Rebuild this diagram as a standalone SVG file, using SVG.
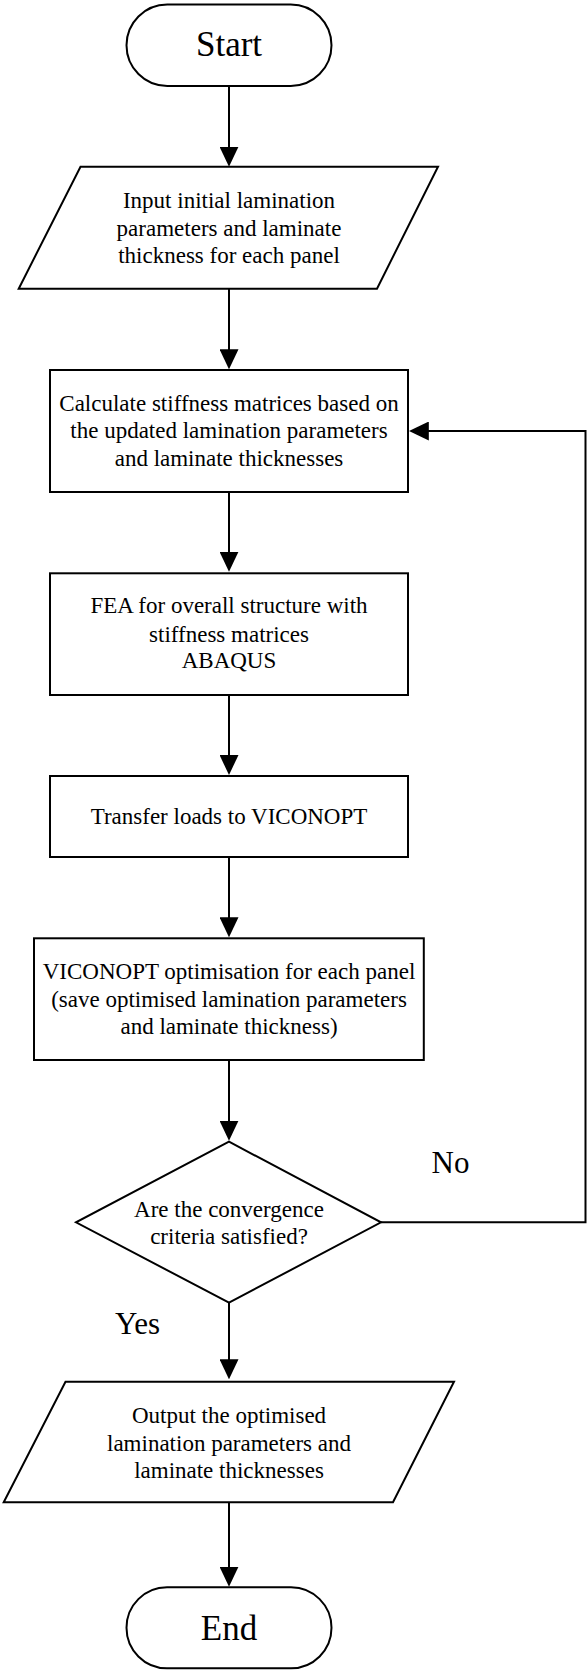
<svg xmlns="http://www.w3.org/2000/svg" width="587" height="1671" viewBox="0 0 587 1671">
  <style>
    .shape { fill: #ffffff; stroke: #000000; stroke-width: 2; }
    .conn { fill: none; stroke: #000000; stroke-width: 2; }
    text { font-family: "Liberation Serif", "Times New Roman", serif; fill: #000000; }
    .t { font-size: 23px; text-anchor: middle; }
    .big { font-size: 35px; text-anchor: middle; }
    .lbl { font-size: 31px; }
  </style>
  <defs>
    <marker id="arrow" markerUnits="userSpaceOnUse" markerWidth="20" markerHeight="19" refX="16" refY="9.5" orient="auto">
      <path d="M0,0 L20,9.5 L0,19 Z" fill="#000000"/>
    </marker>
  </defs>

  <rect width="587" height="1671" fill="#ffffff"/>

  <!-- connectors -->
  <g id="connectors">
    <line class="conn" x1="229" y1="86" x2="229" y2="162.7" marker-end="url(#arrow)"/>
    <line class="conn" x1="229" y1="288.7" x2="229" y2="365.3" marker-end="url(#arrow)"/>
    <line class="conn" x1="229" y1="492" x2="229" y2="567.7" marker-end="url(#arrow)"/>
    <line class="conn" x1="229" y1="695" x2="229" y2="771" marker-end="url(#arrow)"/>
    <line class="conn" x1="229" y1="857" x2="229" y2="933.3" marker-end="url(#arrow)"/>
    <line class="conn" x1="229" y1="1060" x2="229" y2="1136.7" marker-end="url(#arrow)"/>
    <line class="conn" x1="229" y1="1302.7" x2="229" y2="1375.3" marker-end="url(#arrow)"/>
    <line class="conn" x1="229" y1="1502.3" x2="229" y2="1582.7" marker-end="url(#arrow)"/>
    <polyline class="conn" points="381,1222.3 585.5,1222.3 585.5,431 412.8,431" marker-end="url(#arrow)"/>
    <text class="lbl" x="431.5" y="1172.7">No</text>
    <text class="lbl" x="115" y="1334.3">Yes</text>
  </g>

  <!-- start -->
  <g id="start">
    <rect class="shape" x="126.5" y="4.5" width="205" height="81.5" rx="40.75" ry="40.75"/>
    <text class="big" x="229" y="56">Start</text>
  </g>

  <!-- input -->
  <g id="input">
    <polygon class="shape" points="80.5,166.7 438,166.7 377,288.7 18.7,288.7"/>
    <text class="t" x="229" y="208.3">Input initial lamination</text>
    <text class="t" x="229" y="235.7">parameters and laminate</text>
    <text class="t" x="229" y="262.7">thickness for each panel</text>
  </g>

  <!-- stiffness -->
  <g id="stiffness">
    <rect class="shape" x="50" y="370" width="358" height="122"/>
    <text class="t" x="229" y="411">Calculate stiffness matrices based on</text>
    <text class="t" x="229" y="438">the updated lamination parameters</text>
    <text class="t" x="229" y="465.7">and laminate thicknesses</text>
  </g>

  <!-- fea -->
  <g id="fea">
    <rect class="shape" x="50" y="573.3" width="358" height="121.7"/>
    <text class="t" x="229" y="613.3">FEA for overall structure with</text>
    <text class="t" x="229" y="641.7">stiffness matrices</text>
    <text class="t" x="229" y="668.3">ABAQUS</text>
  </g>

  <!-- transfer -->
  <g id="transfer">
    <rect class="shape" x="50" y="776" width="358" height="81"/>
    <text class="t" x="229" y="824.3">Transfer loads to VICONOPT</text>
  </g>

  <!-- optimisation -->
  <g id="optimisation">
    <rect class="shape" x="34" y="938.3" width="389.8" height="121.7"/>
    <text class="t" x="229" y="979">VICONOPT optimisation for each panel</text>
    <text class="t" x="229" y="1007.3">(save optimised lamination parameters</text>
    <text class="t" x="229" y="1034.3">and laminate thickness)</text>
  </g>

  <!-- decision -->
  <g id="decision">
    <polygon class="shape" points="229,1141.7 381,1222.3 229,1302.7 76,1222.3"/>
    <text class="t" x="229" y="1216.7">Are the convergence</text>
    <text class="t" x="229" y="1244.3">criteria satisfied?</text>
  </g>

  <!-- output -->
  <g id="output">
    <polygon class="shape" points="65.5,1381.7 454,1381.7 393,1502.3 3.7,1502.3"/>
    <text class="t" x="229" y="1422.7">Output the optimised</text>
    <text class="t" x="229" y="1450.7">lamination parameters and</text>
    <text class="t" x="229" y="1477.7">laminate thicknesses</text>
  </g>

  <!-- end -->
  <g id="end">
    <rect class="shape" x="126.5" y="1587.3" width="205" height="81" rx="40.5" ry="40.5"/>
    <text class="big" x="229" y="1640">End</text>
  </g>
</svg>
